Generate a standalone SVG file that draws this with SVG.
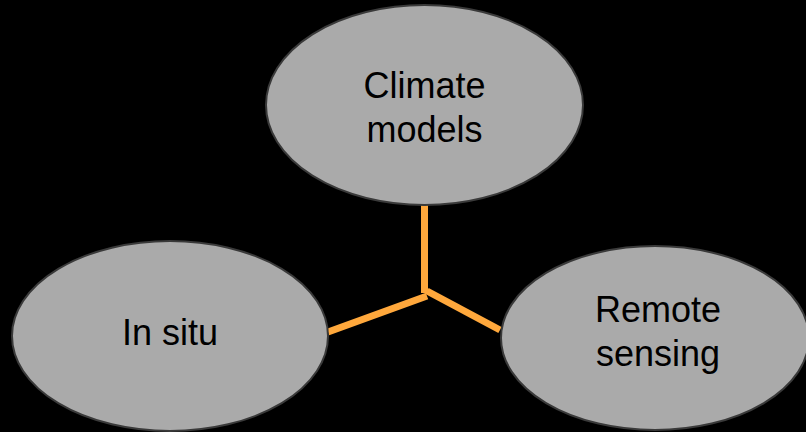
<svg xmlns="http://www.w3.org/2000/svg" width="806" height="432" viewBox="0 0 806 432">
<style>
.node ellipse{fill:#aaaaaa;stroke:#3a3a3a;stroke-width:2}
.node text{font-family:"Liberation Sans",Arial,sans-serif;font-size:36px;fill:#000;text-anchor:middle}
.conn line{stroke:#ffa83c;stroke-width:7;stroke-linecap:butt}
</style>
<rect width="806" height="432" fill="#000"/>
<g id="connectors" class="conn">
<line x1="424.5" y1="205" x2="424.5" y2="293"/>
<line x1="328" y1="332" x2="427" y2="296"/>
<line x1="427" y1="291" x2="500" y2="330"/>
</g>
<g id="climate-models" class="node">
<ellipse cx="424.5" cy="105" rx="158.5" ry="100"/>
<text x="424.5" y="98">Climate</text>
<text x="424.5" y="142">models</text>
</g>
<g id="in-situ" class="node">
<ellipse cx="170" cy="336" rx="158" ry="95"/>
<text x="170" y="345">In situ</text>
</g>
<g id="remote-sensing" class="node">
<ellipse cx="655" cy="338" rx="154" ry="92"/>
<text x="658" y="322">Remote</text>
<text x="658" y="366">sensing</text>
</g>
</svg>
